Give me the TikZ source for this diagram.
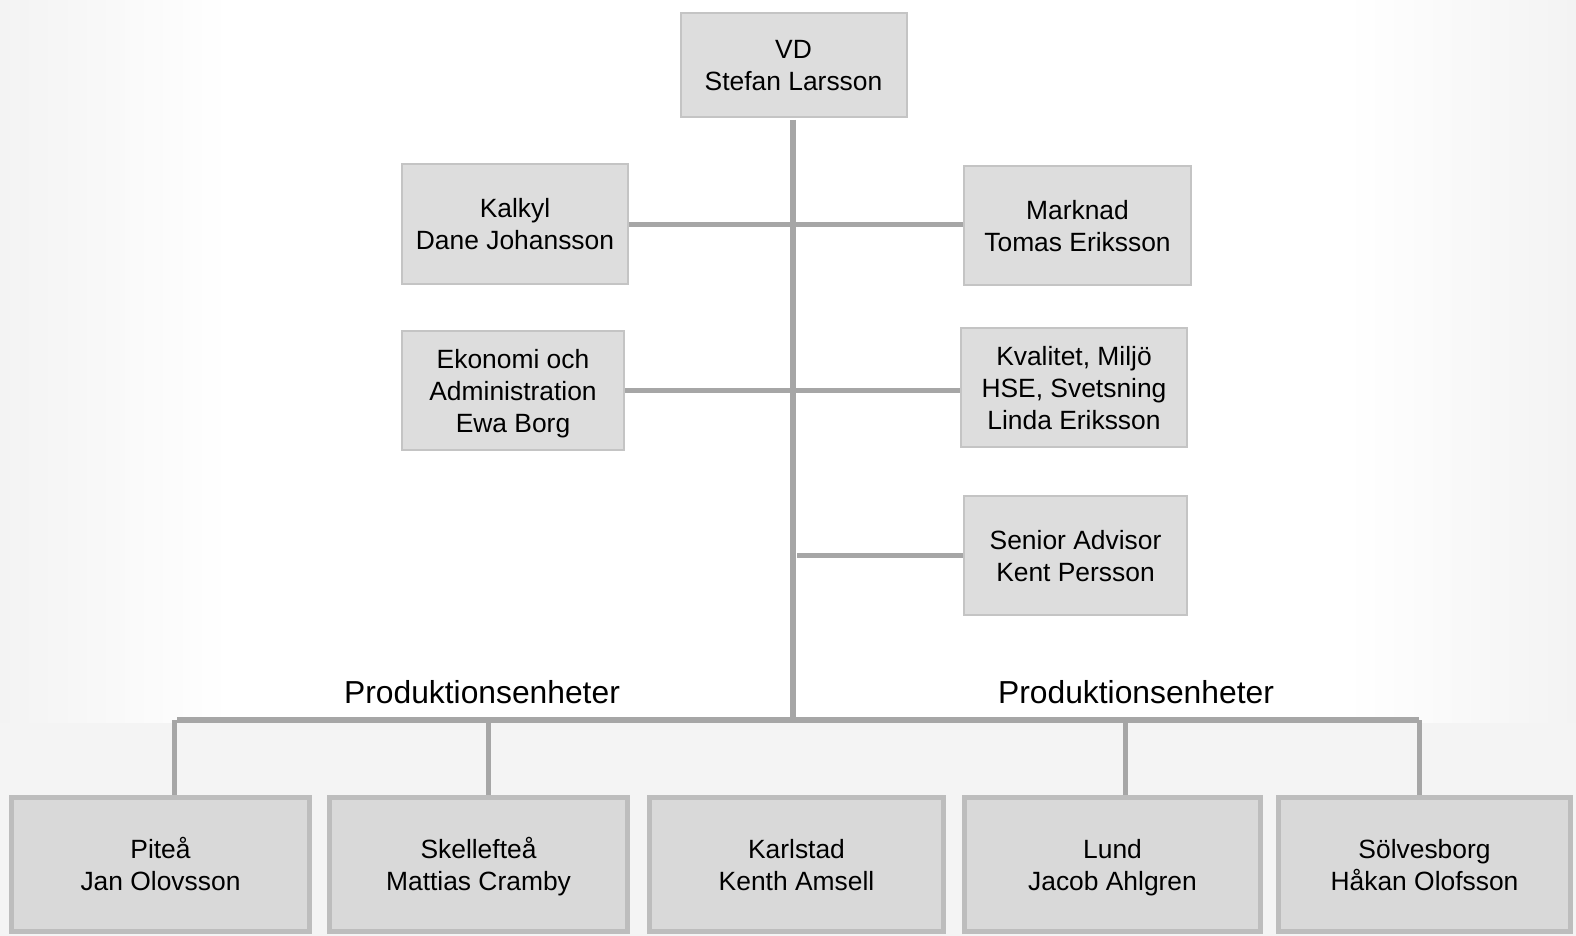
\documentclass[tikz,border=0pt]{standalone}
\usepackage{fontspec}
\setmainfont{Liberation Sans}
\definecolor{boxfill}{HTML}{DDDDDD}
\definecolor{boxline}{HTML}{C4C4C4}
\definecolor{botfill}{HTML}{D9D9D9}
\definecolor{botline}{HTML}{BDBDBD}
\definecolor{conn}{HTML}{A6A6A6}
\definecolor{bgedge}{HTML}{F3F3F3}
\definecolor{bgband}{HTML}{F4F4F4}
\newcommand\mystrut{\rule[-6.4pt]{0pt}{32pt}}
\tikzset{
  topbox/.style={draw=boxline, fill=boxfill, line width=2pt, inner sep=0pt, align=center,
     font=\fontsize{26.4}{32}\selectfont, text=black},
  botbox/.style={draw=botline, fill=botfill, line width=5pt, inner sep=0pt, align=center,
     minimum height=134pt, font=\fontsize{26.4}{32}\selectfont, text=black},
  thickconn/.style={draw=conn, line width=6pt},
  thinconn/.style={draw=conn, line width=5pt},
  grouplabel/.style={font=\fontsize{31.8}{38}\selectfont, anchor=base, inner sep=0pt},
}
\begin{document}
\begin{tikzpicture}[x=1pt, y=-1pt]
\useasboundingbox (0,0) rectangle (1576,936);
% background
\fill[white] (0,0) rectangle (1576,936);
\shade[left color=bgedge, right color=white] (0,0) rectangle (230,723);
\shade[left color=white, right color=bgedge] (1346,0) rectangle (1576,723);
\fill[bgband] (0,723) rectangle (1576,936);

% top boxes
\node[topbox, minimum width=226pt, minimum height=104pt] (vd) at (793.5,65) {\mystrut VD\\\mystrut Stefan Larsson};
\node[topbox, minimum width=226pt, minimum height=120pt] (kal) at (515,224) {\mystrut Kalkyl\\\mystrut Dane Johansson};
\node[topbox, minimum width=227pt, minimum height=119pt] (mark) at (1077.5,225.5) {\mystrut Marknad\\\mystrut Tomas Eriksson};
\node[topbox, minimum width=222pt, minimum height=119pt] (eko) at (513,390.5) {\mystrut Ekonomi och\\\mystrut Administration\\\mystrut Ewa Borg};
\node[topbox, minimum width=226pt, minimum height=119pt] (kval) at (1074,387.5) {\mystrut Kvalitet, Miljö\\\mystrut HSE, Svetsning\\\mystrut Linda Eriksson};
\node[topbox, minimum width=223pt, minimum height=119pt] (sen) at (1075.5,555.5) {\mystrut Senior Advisor\\\mystrut Kent Persson};

% bottom boxes
\node[botbox, minimum width=298pt] (pit) at (160.5,864.5) {\mystrut Piteå\\\mystrut Jan Olovsson};
\node[botbox, minimum width=298pt] (ske) at (478.5,864.5) {\mystrut Skellefteå\\\mystrut Mattias Cramby};
\node[botbox, minimum width=294pt] (kar) at (796.5,864.5) {\mystrut Karlstad\\\mystrut Kenth Amsell};
\node[botbox, minimum width=296pt] (lun) at (1112.5,864.5) {\mystrut Lund\\\mystrut Jacob Ahlgren};
\node[botbox, minimum width=292pt] (sol) at (1424.5,864.5) {\mystrut Sölvesborg\\\mystrut Håkan Olofsson};

% group labels
\node[grouplabel] (plabL) at (482,703) {Produktionsenheter};
\node[grouplabel] (plabR) at (1136,703) {Produktionsenheter};

% bus coordinates
\coordinate (busL) at (177,720);
\coordinate (busM) at (793,720);
\coordinate (busR) at (1419,720);
\coordinate (dPit) at (174.5,720);
\coordinate (dSke) at (488,720);
\coordinate (dLun) at (1125,720);
\coordinate (dSol) at (1419,720);

% connectors
\draw[thickconn] ([yshift=-2pt]vd.south -| busM) -- (busM);
\draw[thinconn] (kal.east) -- (kal.east -| mark.west);
\draw[thinconn] (eko.east) -- (eko.east -| kval.west);
\draw[thinconn] ([xshift=4pt]sen.west -| busM) -- (sen.west);
\draw[thickconn] (busL) -- (busR);
\draw[thinconn] (dPit) -- (dPit |- pit.north);
\draw[thinconn] (dSke) -- (dSke |- ske.north);
\draw[thinconn] (dLun) -- (dLun |- lun.north);
\draw[thinconn] (dSol) -- (dSol |- sol.north);
\end{tikzpicture}
\end{document}
